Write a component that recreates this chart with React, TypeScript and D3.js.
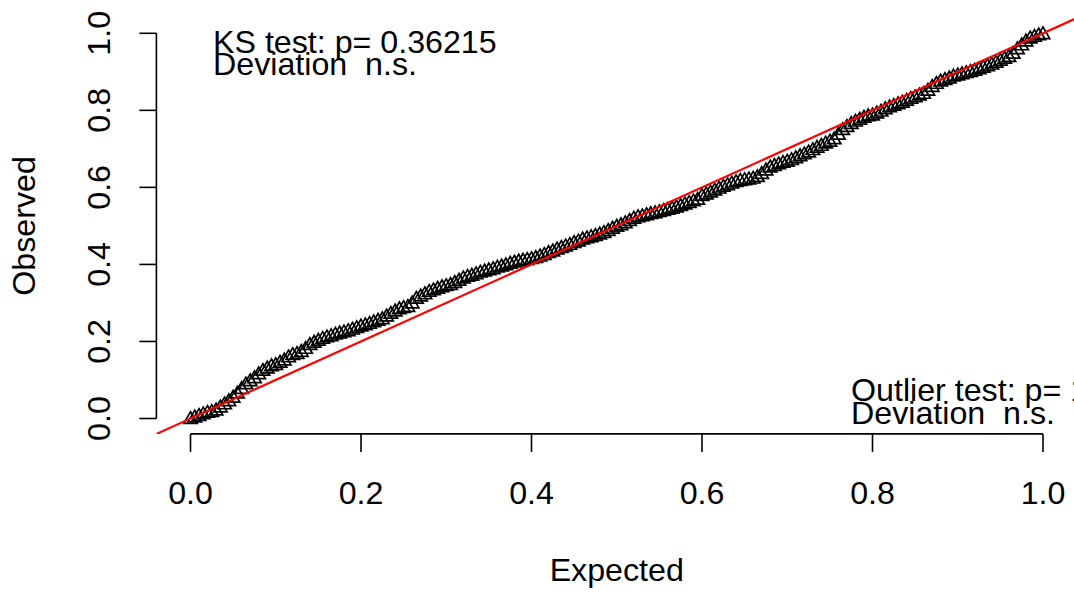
import React from "react";
import * as d3 from "d3";

const observed: number[] = [
  0.000, 0.004, 0.008, 0.012, 0.016, 0.018, 0.022, 0.030, 0.038, 0.046,
  0.055, 0.066, 0.078, 0.090, 0.098, 0.106, 0.116, 0.125, 0.131, 0.137,
  0.140, 0.146, 0.152, 0.160, 0.166, 0.169, 0.174, 0.182, 0.192, 0.198,
  0.203, 0.208, 0.212, 0.215, 0.219, 0.222, 0.225, 0.228, 0.232, 0.236,
  0.240, 0.243, 0.247, 0.251, 0.255, 0.259, 0.266, 0.273, 0.279, 0.285,
  0.288, 0.291, 0.300, 0.312, 0.318, 0.324, 0.330, 0.334, 0.338, 0.342,
  0.345, 0.348, 0.353, 0.359, 0.365, 0.369, 0.372, 0.376, 0.380, 0.383,
  0.386, 0.389, 0.393, 0.396, 0.399, 0.403, 0.406, 0.409, 0.411, 0.413,
  0.415, 0.418, 0.422, 0.426, 0.431, 0.435, 0.440, 0.444, 0.448, 0.452,
  0.457, 0.461, 0.466, 0.469, 0.472, 0.475, 0.479, 0.483, 0.488, 0.494,
  0.499, 0.503, 0.508, 0.514, 0.520, 0.524, 0.526, 0.529, 0.532, 0.534,
  0.537, 0.540, 0.543, 0.546, 0.549, 0.553, 0.557, 0.561, 0.565, 0.569,
  0.579, 0.583, 0.588, 0.593, 0.598, 0.603, 0.607, 0.611, 0.615, 0.618,
  0.620, 0.622, 0.624, 0.628, 0.636, 0.645, 0.653, 0.657, 0.661, 0.665,
  0.668, 0.672, 0.677, 0.682, 0.687, 0.692, 0.698, 0.704, 0.709, 0.715,
  0.720, 0.726, 0.738, 0.750, 0.758, 0.766, 0.772, 0.777, 0.782, 0.786,
  0.788, 0.793, 0.798, 0.804, 0.809, 0.813, 0.817, 0.821, 0.826, 0.831,
  0.835, 0.840, 0.844, 0.852, 0.862, 0.870, 0.876, 0.880, 0.884, 0.889,
  0.892, 0.895, 0.898, 0.901, 0.904, 0.908, 0.912, 0.916, 0.920, 0.925,
  0.930, 0.935, 0.940, 0.948, 0.960, 0.970, 0.980, 0.988, 0.992, 0.996,
  0.999,
];
// Expected uniform quantiles (x positions of the QQ points)
const expected: number[] = observed.map((_, i) => i / (observed.length - 1));

const xTicks = [0, 0.2, 0.4, 0.6, 0.8, 1.0];
const yTicks = [0, 0.2, 0.4, 0.6, 0.8, 1.0];
const ksLines = ["KS test: p= 0.36215", "Deviation  n.s."];
const outlierLines = ["Outlier test: p= 1", "Deviation  n.s."];

const W = 1074;
const H = 593;
const FONT = "'Liberation Sans', Arial, Helvetica, sans-serif";
const FS = 32.2;

export default function App() {
  const x = d3.scaleLinear().domain([0, 1]).range([190.5, 1043]);
  const y = d3.scaleLinear().domain([0, 1]).range([418.5, 33.3]);
  const [dx0, dx1] = [-0.04, 1.04];
  const [dy0, dy1] = [-0.04, 1.04];
  const left = x(dx0);
  const right = x(dx1);
  const top = y(dy1);
  const bottom = y(dy0);

  const tri = d3.symbol().type(d3.symbolTriangle).size(78);
  const triPath = tri() as string;

  return (
    <svg
      width={W}
      height={H}
      style={{ position: "absolute", left: 0, top: 0, background: "#fff" }}
      fontFamily={FONT}
    >
      <rect x={0} y={0} width={W} height={H} fill="#fff" />
      <defs>
        <clipPath id="plotClip">
          <rect x={left} y={top} width={right - left} height={bottom - top} />
        </clipPath>
      </defs>

      {/* points */}
      <g fill="none" stroke="#000" strokeWidth={1.7}>
        {observed.map((o, i) => (
          <path key={i} d={triPath} transform={`translate(${x(expected[i])},${y(o) + 1})`} />
        ))}
      </g>

      {/* identity line */}
      <line
        x1={x(dx0)}
        y1={y(dy0)}
        x2={x(dx1)}
        y2={y(dy1)}
        stroke="#ff0000"
        strokeWidth={2.2}
        clipPath="url(#plotClip)"
      />

      {/* left axis */}
      <g stroke="#000" strokeWidth={1.6}>
        <line x1={left} x2={left} y1={y(0)} y2={y(1)} />
        {yTicks.map((t) => (
          <line key={t} x1={left - 17} x2={left} y1={y(t)} y2={y(t)} />
        ))}
      </g>
      {yTicks.map((t) => (
        <text
          key={t}
          transform={`translate(110,${y(t)}) rotate(-90)`}
          textAnchor="middle"
          fontSize={FS}
          fill="#000"
        >
          {d3.format(".1f")(t)}
        </text>
      ))}
      <text
        transform={`translate(35,${(top + bottom) / 2}) rotate(-90)`}
        textAnchor="middle"
        fontSize={FS}
        fill="#000"
      >
        Observed
      </text>

      {/* bottom axis */}
      <g stroke="#000" strokeWidth={1.6}>
        <line x1={x(0)} x2={x(1)} y1={bottom} y2={bottom} />
        {xTicks.map((t) => (
          <line key={t} x1={x(t)} x2={x(t)} y1={bottom} y2={bottom + 18} />
        ))}
      </g>
      {xTicks.map((t) => (
        <text key={t} x={x(t)} y={504} textAnchor="middle" fontSize={FS} fill="#000">
          {d3.format(".1f")(t)}
        </text>
      ))}
      <text x={(left + right) / 2} y={581} textAnchor="middle" fontSize={FS} fill="#000">
        Expected
      </text>

      {/* annotations */}
      {ksLines.map((s, i) => (
        <text key={s} x={213} y={53 + i * 22} fontSize={FS} fill="#000" style={{ whiteSpace: "pre" }}>
          {s}
        </text>
      ))}
      {outlierLines.map((s, i) => (
        <text key={s} x={851} y={401 + i * 23} fontSize={FS} fill="#000" style={{ whiteSpace: "pre" }}>
          {s}
        </text>
      ))}
    </svg>
  );
}
